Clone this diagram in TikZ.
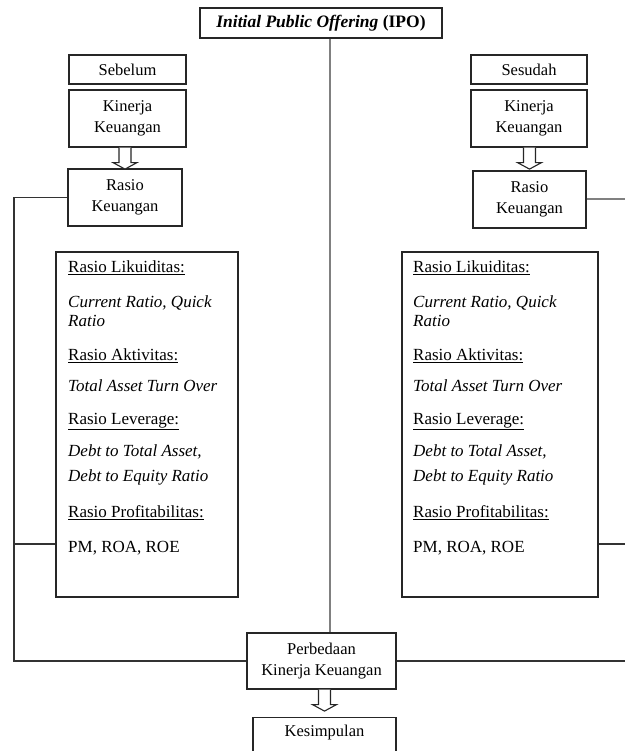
\documentclass[tikz,border=0pt]{standalone}
\usepackage{fontspec}
\setmainfont{Liberation Serif}
\usetikzlibrary{calc}
\begin{document}
\begin{tikzpicture}[x=1pt,y=-1pt,
  box/.style={draw=black!85,line width=1.2pt,fill=white,inner sep=0pt,align=center,font=\fontsize{16.5}{21.5}\selectfont},
  txt/.style={anchor=base west,inner sep=0pt,font=\fontsize{17}{18}\selectfont},
  conn/.style={draw=black!80,line width=1.3pt},
  mainline/.style={draw=black!50,line width=2pt},
  hollow/.style={draw=black!85,line width=1.1pt,fill=white,line join=miter}]
\useasboundingbox (0,0) rectangle (624,751);
% top
\node[box,minimum width=242,minimum height=30,font=\fontsize{17.5}{18}\selectfont\bfseries] (ipo) at (321,23) {\textit{Initial Public Offering} (IPO)};
% left column
\node[box,minimum width=117,minimum height=29] (seb) at (127.5,69.5) {Sebelum};
\node[box,minimum width=117,minimum height=57] (kinL) at (127.5,118.5) {Kinerja\\Keuangan};
\node[box,minimum width=114,minimum height=57] (rasL) at (125,197.5) {Rasio\\Keuangan};
% right column
\node[box,minimum width=116,minimum height=29] (ses) at (529,69.5) {Sesudah};
\node[box,minimum width=116,minimum height=57] (kinR) at (529,118.5) {Kinerja\\Keuangan};
\node[box,minimum width=113,minimum height=57] (rasR) at (529.5,199.5) {Rasio\\Keuangan};
% info boxes
\node[box,minimum width=182,minimum height=345] (infoL) at (147,424.5) {};
\node[box,minimum width=196,minimum height=345] (infoR) at (500,424.5) {};
% bottom
\node[box,minimum width=149,minimum height=56] (perb) at (321.5,661) {Perbedaan\\Kinerja Keuangan};
\node[box,minimum width=143,minimum height=50,anchor=north] (kes) at (324.5,717) {};
\node[inner sep=0pt,font=\fontsize{16.5}{18}\selectfont] (kest) at (324.5,733) {Kesimpulan};
% info text left
\node[txt] (l1) at (68,272.5) {\underline{Rasio Likuiditas:}};
\node[txt] (l2) at (68,307.5) {\textit{Current Ratio, Quick}};
\node[txt] (l3) at (68,326.5) {\textit{Ratio}};
\node[txt] (l4) at (68,360.5) {\underline{Rasio Aktivitas:}};
\node[txt] (l5) at (68,391.5) {\textit{Total Asset Turn Over}};
\node[txt] (l6) at (68,424) {\underline{Rasio Leverage:}};
\node[txt] (l7) at (68,456.5) {\textit{Debt to Total Asset,}};
\node[txt] (l8) at (68,481.5) {\textit{Debt to Equity Ratio}};
\node[txt] (l9) at (68,517.5) {\underline{Rasio Profitabilitas:}};
\node[txt] (l10) at (68,552.5) {PM, ROA, ROE};
% info text right
\node[txt] (r1) at (413,272.5) {\underline{Rasio Likuiditas:}};
\node[txt] (r2) at (413,307.5) {\textit{Current Ratio, Quick}};
\node[txt] (r3) at (413,326.5) {\textit{Ratio}};
\node[txt] (r4) at (413,360.5) {\underline{Rasio Aktivitas:}};
\node[txt] (r5) at (413,391.5) {\textit{Total Asset Turn Over}};
\node[txt] (r6) at (413,424) {\underline{Rasio Leverage:}};
\node[txt] (r7) at (413,456.5) {\textit{Debt to Total Asset,}};
\node[txt] (r8) at (413,481.5) {\textit{Debt to Equity Ratio}};
\node[txt] (r9) at (413,517.5) {\underline{Rasio Profitabilitas:}};
\node[txt] (r10) at (413,552.5) {PM, ROA, ROE};
% connectors
\coordinate (lx) at (14,0);
\coordinate (rx) at (626,0);
\coordinate (mx) at ($(ipo.south)+(9,0)$);
\draw[mainline] (mx) -- (mx |- perb.north);
\draw[conn] (rasL.west) -- (rasL.west -| lx) -- (perb.west -| lx) -- (perb.west);
\draw[conn] (infoL.west |- 0,544) -- (lx |- 0,544);
\draw[mainline] (rasR.east) -- (rasR.east -| rx);
\draw[conn] (rasR.east -| rx) -- (perb.east -| rx) -- (perb.east);
\draw[conn] (infoR.east |- 0,544) -- (rx |- 0,544);
% hollow arrows
\draw[hollow] ($(kinL.south -| rasL.north)+(-6,0)$) -- ++(0,15) -- ++(-6,0) -- ++(12,6.5) -- ++(12,-6.5) -- ++(-6,0) -- ++(0,-15);
\draw[hollow] ($(kinR.south -| rasR.north)+(-6,0)$) -- ++(0,15) -- ++(-6,0) -- ++(12,6.5) -- ++(12,-6.5) -- ++(-6,0) -- ++(0,-15);
\draw[hollow] ($(perb.south -| kes.north)+(-6,0)$) -- ++(0,15) -- ++(-6,0) -- ++(12,6.5) -- ++(12,-6.5) -- ++(-6,0) -- ++(0,-15);
\end{tikzpicture}
\end{document}
